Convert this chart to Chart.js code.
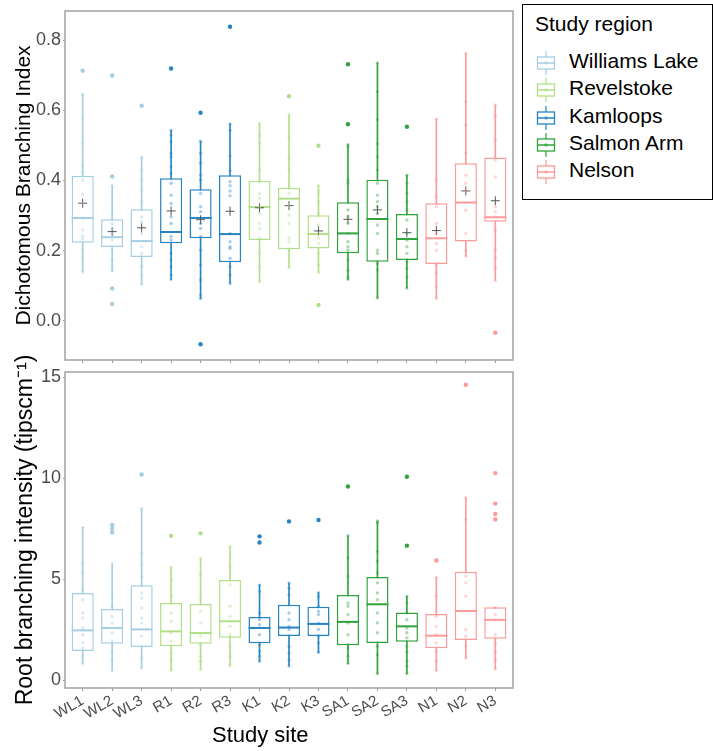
<!DOCTYPE html>
<html>
<head>
<meta charset="utf-8">
<script src="https://cdn.jsdelivr.net/npm/chart.js@4.4.0/dist/chart.umd.min.js"></script>
<style>
    html, body { margin: 0; padding: 0; background: #fff; }
    body { width: 713px; height: 751px; position: relative; overflow: hidden; font-family: "Liberation Sans", Arial, sans-serif; }
    .panel { position: absolute; left: 0; width: 520px; }
    #topPanel { top: 0; height: 368px; }
    #bottomPanel { top: 354px; height: 397px; }
    #xTitle { position: absolute; left: 212px; top: 722px; font-size: 22px; line-height: 26px; color: #000; white-space: nowrap; }
    #legend { position: absolute; left: 522px; top: 4px; width: 191px; height: 196px; border: 1.5px solid #000; box-sizing: border-box; }
    #legend .title { position: absolute; left: 12px; top: 7px; font-size: 21px; line-height: 24px; white-space: nowrap; }
    #legend .item { position: absolute; left: 46px; font-size: 21px; line-height: 24px; white-space: nowrap; }
    #legend svg { position: absolute; left: 13px; }
</style>
</head>
<body>
<div class="panel" id="topPanel"><canvas id="dbiChart"></canvas></div>
<div class="panel" id="bottomPanel"><canvas id="rbiChart"></canvas></div>
<div id="xTitle">Study site</div>
<div id="legend"><div class="title">Study region</div></div>

<script>
const sites = ['WL1', 'WL2', 'WL3', 'R1', 'R2', 'R3', 'K1', 'K2', 'K3', 'SA1', 'SA2', 'SA3', 'N1', 'N2', 'N3'];
const regions = ['Williams Lake', 'Revelstoke', 'Kamloops', 'Salmon Arm', 'Nelson'];

// region colour used for each box (top panel is coloured differently in the source figure)
const dbiRegion = ['Williams Lake', 'Williams Lake', 'Williams Lake', 'Kamloops', 'Kamloops', 'Kamloops',
    'Revelstoke', 'Revelstoke', 'Revelstoke', 'Salmon Arm', 'Salmon Arm', 'Salmon Arm', 'Nelson', 'Nelson', 'Nelson'];
const rbiRegion = ['Williams Lake', 'Williams Lake', 'Williams Lake', 'Revelstoke', 'Revelstoke', 'Revelstoke',
    'Kamloops', 'Kamloops', 'Kamloops', 'Salmon Arm', 'Salmon Arm', 'Salmon Arm', 'Nelson', 'Nelson', 'Nelson'];

// Dichotomous Branching Index
const dbiLow = [0.139, 0.142, 0.104, 0.118, 0.063, 0.107, 0.111, 0.152, 0.138, 0.118, 0.065, 0.093, 0.064, 0.184, 0.115];
const dbiQ1 = [0.222, 0.210, 0.182, 0.221, 0.235, 0.167, 0.230, 0.204, 0.206, 0.192, 0.168, 0.173, 0.162, 0.226, 0.282];
const dbiMedian = [0.293, 0.238, 0.227, 0.253, 0.293, 0.247, 0.324, 0.348, 0.247, 0.249, 0.290, 0.233, 0.235, 0.337, 0.295];
const dbiQ3 = [0.413, 0.289, 0.318, 0.406, 0.375, 0.415, 0.399, 0.379, 0.301, 0.338, 0.402, 0.304, 0.335, 0.449, 0.465];
const dbiHigh = [0.646, 0.385, 0.466, 0.543, 0.512, 0.561, 0.563, 0.587, 0.385, 0.502, 0.735, 0.415, 0.575, 0.762, 0.615];
const dbiMean = [0.335, 0.254, 0.265, 0.313, 0.288, 0.312, 0.322, 0.328, 0.256, 0.289, 0.316, 0.251, 0.257, 0.370, 0.342];
const dbiOutliers = [[0.713], [0.699, 0.411, 0.092, 0.048], [0.613], [0.719], [0.593, -0.067], [0.838], [], [0.640],
    [0.499, 0.045], [0.731, 0.560], [], [0.553], [], [], [-0.034]];
const dbiPoints = [
    [0.646, 0.577, 0.505, 0.442, 0.423, 0.401, 0.361, 0.336, 0.292, 0.259, 0.241, 0.233, 0.202, 0.18, 0.139],
    [0.385, 0.344, 0.306, 0.276, 0.263, 0.249, 0.23, 0.201, 0.173, 0.154, 0.142],
    [0.466, 0.43, 0.401, 0.372, 0.339, 0.296, 0.282, 0.249, 0.211, 0.192, 0.154, 0.13, 0.104],
    [0.543, 0.529, 0.51, 0.477, 0.467, 0.439, 0.42, 0.392, 0.358, 0.334, 0.296, 0.277, 0.24, 0.23, 0.192, 0.173, 0.154, 0.13, 0.118],
    [0.512, 0.477, 0.449, 0.415, 0.401, 0.363, 0.325, 0.311, 0.277, 0.263, 0.24, 0.201, 0.159, 0.116, 0.073, 0.063],
    [0.561, 0.543, 0.47, 0.428, 0.396, 0.385, 0.37, 0.356, 0.249, 0.225, 0.211, 0.206, 0.178, 0.154, 0.13, 0.106],
    [0.563, 0.529, 0.505, 0.43, 0.396, 0.363, 0.349, 0.325, 0.306, 0.277, 0.263, 0.235, 0.192, 0.154, 0.111],
    [0.587, 0.524, 0.463, 0.434, 0.377, 0.363, 0.33, 0.301, 0.277, 0.235, 0.225, 0.201, 0.152],
    [0.385, 0.368, 0.339, 0.306, 0.273, 0.249, 0.235, 0.22, 0.192, 0.159, 0.138],
    [0.502, 0.496, 0.401, 0.392, 0.316, 0.296, 0.277, 0.249, 0.225, 0.211, 0.201, 0.173, 0.144, 0.125, 0.118],
    [0.735, 0.653, 0.574, 0.505, 0.467, 0.43, 0.392, 0.358, 0.339, 0.325, 0.306, 0.273, 0.249, 0.201, 0.192, 0.163, 0.145, 0.065],
    [0.415, 0.392, 0.363, 0.339, 0.316, 0.287, 0.249, 0.23, 0.211, 0.192, 0.168, 0.149, 0.125, 0.093],
    [0.575, 0.401, 0.353, 0.325, 0.277, 0.249, 0.22, 0.201, 0.159, 0.135, 0.097, 0.064],
    [0.762, 0.624, 0.558, 0.477, 0.415, 0.392, 0.372, 0.315, 0.249, 0.201, 0.184],
    [0.615, 0.586, 0.515, 0.458, 0.41, 0.325, 0.311, 0.296, 0.258, 0.23, 0.201, 0.178, 0.149, 0.115]
];
const dbiTicks = [0, 0.2, 0.4, 0.6, 0.8];

// Root branching intensity (tips per cm)
const rbiLow = [0.83, 0.48, 0.61, 0.49, 0.53, 0.74, 0.94, 0.71, 1.38, 0.84, 0.33, 0.33, 0.48, 1.11, 0.56];
const rbiQ1 = [1.45, 1.81, 1.65, 1.68, 1.81, 2.11, 1.83, 2.19, 2.19, 1.73, 1.85, 1.91, 1.58, 2.00, 2.05];
const rbiMedian = [2.47, 2.59, 2.52, 2.42, 2.34, 2.92, 2.59, 2.61, 2.79, 2.89, 3.76, 2.67, 2.21, 3.43, 2.99];
const rbiQ3 = [4.32, 3.53, 4.70, 3.83, 3.78, 4.96, 3.13, 3.74, 3.64, 4.22, 5.11, 3.36, 3.28, 5.37, 3.61];
const rbiHigh = [7.56, 5.75, 8.50, 5.59, 6.03, 6.61, 4.72, 4.81, 4.34, 7.15, 7.88, 4.15, 5.09, 9.03, 3.61];
const rbiOutliers = [[], [7.68, 7.50, 7.32], [10.18], [7.15], [7.27], [], [7.12, 6.82], [7.86], [7.93], [9.59], [],
    [10.07, 6.66], [5.93], [14.62], [10.25, 8.74, 8.23, 7.96]];
const rbiPoints = [
    [7.56, 5.8, 5.31, 4.48, 3.99, 3.33, 3.08, 2.59, 2.26, 1.85, 1.6, 1.19, 0.83],
    [5.75, 4.24, 3.66, 3.16, 2.83, 2.34, 1.93, 1.43, 1.02, 0.48],
    [8.5, 6.29, 5.72, 5.14, 4.32, 4.07, 3.58, 3.08, 2.83, 2.18, 1.1, 0.61],
    [5.59, 4.98, 4.15, 3.33, 2.92, 2.34, 1.93, 1.35, 1.02, 0.49],
    [6.03, 5.22, 3.99, 3.41, 2.83, 2.18, 1.76, 1.19, 0.94, 0.53],
    [6.61, 5.64, 4.73, 3.66, 3.16, 2.67, 2.26, 1.68, 1.19, 0.74],
    [4.71, 4.4, 3.33, 3.0, 2.75, 2.26, 1.76, 1.43, 1.19, 0.94],
    [4.81, 4.56, 4.24, 3.33, 3.0, 2.67, 2.51, 1.68, 1.35, 1.02, 0.71],
    [4.33, 4.15, 3.66, 3.41, 3.25, 2.83, 2.51, 2.18, 1.85, 1.38],
    [7.15, 6.05, 5.14, 3.82, 3.66, 3.25, 2.83, 2.26, 1.76, 1.6, 1.19, 0.84],
    [7.88, 7.78, 6.38, 5.89, 5.31, 4.82, 4.32, 3.99, 3.33, 2.84, 2.35, 1.69, 1.27, 0.33],
    [4.16, 3.83, 3.33, 3.0, 2.59, 2.35, 2.1, 1.69, 1.39, 0.94, 0.7, 0.33],
    [5.1, 4.16, 3.17, 2.67, 2.26, 1.85, 1.44, 0.94, 0.48],
    [9.04, 7.95, 5.15, 4.82, 4.16, 2.51, 2.18, 1.69, 1.11],
    [3.61, 3.25, 3.0, 2.26, 1.85, 1.44, 1.03, 0.56]
];
const rbiTicks = [0, 5, 10, 15];

const regionColors = {
    'Williams Lake': '#a6cee3',
    'Revelstoke': '#b2df8a',
    'Kamloops': '#2684c4',
    'Salmon Arm': '#31a33d',
    'Nelson': '#fb9a99'
};

function withAlpha(hex, a) {
    const n = parseInt(hex.slice(1), 16);
    return `rgba(${(n >> 16) & 255}, ${(n >> 8) & 255}, ${n & 255}, ${a})`;
}

// grey frame around each panel
const panelBorder = {
    id: 'panelBorder',
    afterDraw(chart) {
        const {ctx, chartArea: a} = chart;
        ctx.save();
        ctx.strokeStyle = '#a3a3a3';
        ctx.lineWidth = 1.5;
        ctx.strokeRect(a.left, a.top, a.right - a.left, a.bottom - a.top);
        ctx.restore();
    }
};

function makePanel(canvasId, p) {
    const colors = p.region.map(r => regionColors[r]);

    const jitter = [], jitterColors = [];
    p.points.forEach((vals, i) => vals.forEach(v => {
        jitter.push({x: i + 1, y: v});
        jitterColors.push(withAlpha(colors[i], 0.4));
    }));
    const outliers = [], outlierColors = [];
    p.outliers.forEach((vals, i) => vals.forEach(v => {
        outliers.push({x: i + 1, y: v});
        outlierColors.push(colors[i]);
    }));

    const datasets = [
        {
            type: 'scatter', label: 'points', order: 0,
            data: jitter,
            pointRadius: 1.7, pointBorderWidth: 0,
            pointBackgroundColor: jitterColors
        },
        {
            type: 'scatter', label: 'outliers', order: 1,
            data: outliers,
            pointRadius: 2.2, pointBorderWidth: 0,
            pointBackgroundColor: outlierColors
        },
        {
            type: 'scatter', label: 'median', order: 3,
            data: p.median.map((v, i) => ({x: i + 1, y: v})),
            pointStyle: 'line', pointRadius: 11, pointBorderWidth: 2,
            pointBorderColor: colors
        },
        {
            type: 'bar', label: 'box', order: 4,
            data: p.q1.map((v, i) => ({x: i + 1, y: [v, p.q3[i]]})),
            backgroundColor: '#ffffff',
            borderColor: colors,
            borderWidth: 1.5,
            borderSkipped: false,
            barPercentage: 0.75,
            categoryPercentage: 1
        },
        {
            type: 'bar', label: 'whisker', order: 5,
            data: p.low.map((v, i) => ({x: i + 1, y: [v, p.high[i]]})),
            backgroundColor: colors,
            borderWidth: 0,
            barThickness: 1
        }
    ];
    if (p.mean) {
        datasets.push({
            type: 'scatter', label: 'mean', order: 2,
            data: p.mean.map((v, i) => ({x: i + 1, y: v})),
            pointStyle: 'cross', pointRadius: 4.5, pointBorderWidth: 1,
            pointBorderColor: '#555555'
        });
    }

    return new Chart(document.getElementById(canvasId), {
        type: 'bar',
        data: {datasets},
        options: {
            responsive: true,
            maintainAspectRatio: false,
            animation: false,
            events: [],
            layout: {autoPadding: false, padding: {top: p.padTop, right: 7, left: 0, bottom: 0}},
            plugins: {legend: {display: false}, tooltip: {enabled: false}},
            datasets: {bar: {grouped: false}},
            scales: {
                x: {
                    type: 'linear',
                    min: 0.4,
                    max: 15.6,
                    offset: false,
                    afterBuildTicks: s => { s.ticks = sites.map((_, i) => ({value: i + 1})); },
                    afterFit: s => {
                        s.height = p.xHeight;
                        s.paddingLeft = 0;
                        s.paddingRight = 0;
                    },
                    border: {display: false},
                    grid: {offset: false, drawOnChartArea: false, drawTicks: true, tickLength: 3, color: '#9a9a9a'},
                    ticks: {
                        display: p.showLabels,
                        autoSkip: false,
                        minRotation: 30,
                        maxRotation: 30,
                        padding: 1,
                        color: '#4d4d4d',
                        font: {family: '"Liberation Sans", Arial, sans-serif', size: 15},
                        callback: v => sites[Math.round(v) - 1]
                    }
                },
                y: {
                    type: 'linear',
                    min: p.min,
                    max: p.max,
                    afterBuildTicks: s => { s.ticks = p.ticks.map(v => ({value: v})); },
                    afterFit: s => {
                        s.width = 65;
                        s.paddingTop = 0;
                        s.paddingBottom = 0;
                    },
                    border: {display: false},
                    grid: {drawOnChartArea: false, drawTicks: true, tickLength: 2, color: '#9a9a9a'},
                    ticks: {
                        padding: 2,
                        color: '#4d4d4d',
                        font: {family: '"Liberation Sans", Arial, sans-serif', size: 18},
                        callback: p.tickFormat
                    },
                    title: {
                        display: true,
                        text: p.title,
                        color: '#000000',
                        padding: {top: 12, bottom: 0},
                        font: {family: '"Liberation Sans", Arial, sans-serif', size: p.titleSize}
                    }
                }
            }
        },
        plugins: [panelBorder]
    });
}

makePanel('dbiChart', {
    region: dbiRegion,
    low: dbiLow, q1: dbiQ1, median: dbiMedian, q3: dbiQ3, high: dbiHigh, mean: dbiMean,
    outliers: dbiOutliers, points: dbiPoints,
    ticks: dbiTicks, min: -0.112, max: 0.883,
    tickFormat: v => v.toFixed(1),
    title: 'Dichotomous Branching Index', titleSize: 21,
    padTop: 11, xHeight: 8, showLabels: false
});

makePanel('rbiChart', {
    region: rbiRegion,
    low: rbiLow, q1: rbiQ1, median: rbiMedian, q3: rbiQ3, high: rbiHigh, mean: null,
    outliers: rbiOutliers, points: rbiPoints,
    ticks: rbiTicks, min: -0.38, max: 15.25,
    tickFormat: v => String(v),
    title: 'Root branching intensity (tipscm\u207B\u00B9)', titleSize: 23,
    padTop: 18, xHeight: 63, showLabels: true
});

// legend with small boxplot keys
const legend = document.getElementById('legend');
regions.forEach((r, i) => {
    const c = regionColors[r];
    const top = 44 + i * 27.3;
    const icon = document.createElementNS('http://www.w3.org/2000/svg', 'svg');
    icon.setAttribute('width', '20');
    icon.setAttribute('height', '26');
    icon.style.top = (top + 1) + 'px';
    icon.innerHTML =
        `<line x1="10" y1="1" x2="10" y2="25" stroke="${c}" stroke-width="1.2"/>` +
        `<rect x="1.5" y="7" width="17" height="12" fill="#fff" stroke="${c}" stroke-width="1.3"/>` +
        `<line x1="1.5" y1="13" x2="18.5" y2="13" stroke="${c}" stroke-width="1.5"/>` +
        `<circle cx="10" cy="13" r="1.8" fill="${withAlpha(c, 0.6)}"/>`;
    legend.appendChild(icon);
    const label = document.createElement('div');
    label.className = 'item';
    label.style.top = top + 'px';
    label.textContent = r;
    legend.appendChild(label);
});
</script>
</body>
</html>
